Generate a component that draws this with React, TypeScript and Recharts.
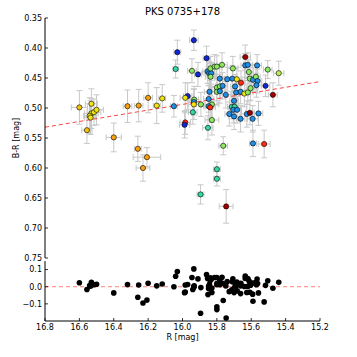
import React from 'react';
import { ScatterChart, Scatter, XAxis, YAxis, ErrorBar, ReferenceLine } from 'recharts';

// R magnitude of each observation
const rMag = [
  16.60, 16.53, 16.53, 16.515, 16.50, 16.54, 16.535, 16.556, 16.40, 16.32,
  16.255, 16.20, 16.118, 16.15, 16.05, 16.26, 16.207, 16.23, 16.03, 16.04,
  15.934, 15.945, 15.86, 15.91, 15.854, 15.845, 15.833, 15.837, 15.813, 15.80,
  15.77, 15.837, 15.707, 15.635, 15.635, 15.62, 15.566, 15.504, 15.44, 15.614,
  15.783, 15.74, 15.71, 15.684, 15.66, 15.608, 15.59, 15.573, 15.563, 15.80,
  15.783, 15.767, 15.694, 15.80, 15.783, 15.748, 15.688, 15.662, 15.64, 15.62,
  15.604, 15.57, 15.517, 15.474, 15.843, 15.97, 15.984, 15.848, 15.70, 15.932,
  15.934, 15.934, 15.893, 15.829, 15.848, 15.839, 15.713, 15.697, 15.705, 15.682,
  15.94, 15.728, 15.70, 15.662, 15.626, 15.608, 15.558, 15.592, 15.829, 15.984,
  15.988, 15.852, 15.763, 15.59, 15.525, 15.80, 15.80, 15.895, 15.746,
];
// B-R colour of each observation
const bMinusR = [
  0.499, 0.493, 0.509, 0.507, 0.503, 0.513, 0.516, 0.537, 0.549, 0.497,
  0.496, 0.483, 0.484, 0.496, 0.497, 0.568, 0.582, 0.600, 0.407, 0.435,
  0.387, 0.438, 0.417, 0.444, 0.439, 0.442, 0.442, 0.434, 0.431, 0.431,
  0.428, 0.448, 0.434, 0.415, 0.429, 0.428, 0.429, 0.436, 0.442, 0.440,
  0.451, 0.452, 0.451, 0.452, 0.458, 0.451, 0.453, 0.448, 0.455, 0.466,
  0.464, 0.463, 0.464, 0.473, 0.472, 0.478, 0.474, 0.473, 0.476, 0.474,
  0.467, 0.462, 0.463, 0.478, 0.473, 0.480, 0.483, 0.485, 0.488, 0.486,
  0.490, 0.494, 0.494, 0.494, 0.497, 0.499, 0.498, 0.498, 0.503, 0.503,
  0.507, 0.510, 0.514, 0.518, 0.510, 0.508, 0.509, 0.518, 0.520, 0.524,
  0.528, 0.533, 0.563, 0.559, 0.560, 0.602, 0.618, 0.644, 0.664,
];
// colour class (time-coded) of each observation
const colorClass = [
  'oy', 'yellow', 'yellow', 'yellow', 'yellow', 'yellow', 'yellow', 'oy', 'orange', 'orange',
  'orange', 'orange', 'yellow', 'yellow', 'blue', 'orange', 'orange', 'orange', 'navy', 'teal',
  'navy', 'green', 'navy', 'navy', 'blue', 'blue', 'blue', 'green', 'green', 'green',
  'green', 'green', 'green', 'dred', 'blue', 'blue', 'blue', 'green', 'lgreen', 'green',
  'blue', 'blue', 'blue', 'yellow', 'red', 'green', 'blue', 'green', 'blue', 'green',
  'green', 'blue', 'blue', 'green', 'blue', 'blue', 'blue', 'blue', 'yellow', 'green',
  'green', 'blue', 'navy', 'dred', 'blue', 'navy', 'yellow', 'blue', 'blue', 'green',
  'blue', 'yellow', 'green', 'green', 'blue', 'red', 'teal', 'teal', 'blue', 'blue',
  'teal', 'blue', 'blue', 'blue', 'blue', 'dred', 'blue', 'blue', 'green', 'red',
  'navy', 'teal', 'green', 'blue', 'red', 'teal', 'teal', 'teal', 'dred',
];
// error in R
const errR = [
  0.047, 0.035, 0.040, 0.040, 0.040, 0.035, 0.035, 0.030, 0.044, 0.025,
  0.025, 0.025, 0.020, 0.020, 0.020, 0.020, 0.080, 0.040, 0.020, 0.015,
  0.025, 0.025, 0.020, 0.020, 0.030, 0.030, 0.030, 0.025, 0.025, 0.025,
  0.030, 0.030, 0.030, 0.030, 0.025, 0.025, 0.025, 0.025, 0.030, 0.025,
  0.030, 0.025, 0.025, 0.030, 0.025, 0.030, 0.025, 0.025, 0.025, 0.030,
  0.025, 0.030, 0.025, 0.030, 0.030, 0.030, 0.025, 0.030, 0.025, 0.030,
  0.025, 0.030, 0.025, 0.025, 0.030, 0.025, 0.030, 0.030, 0.025, 0.025,
  0.030, 0.030, 0.025, 0.040, 0.030, 0.030, 0.025, 0.025, 0.025, 0.025,
  0.025, 0.025, 0.030, 0.025, 0.030, 0.025, 0.025, 0.030, 0.040, 0.030,
  0.030, 0.030, 0.025, 0.020, 0.035, 0.020, 0.020, 0.020, 0.040,
];
// error in B-R
const errBR = [
  0.028, 0.025, 0.025, 0.022, 0.025, 0.030, 0.028, 0.022, 0.024, 0.027,
  0.027, 0.025, 0.023, 0.030, 0.018, 0.021, 0.016, 0.022, 0.020, 0.015,
  0.017, 0.020, 0.020, 0.020, 0.020, 0.020, 0.018, 0.020, 0.020, 0.018,
  0.020, 0.022, 0.020, 0.020, 0.020, 0.020, 0.018, 0.015, 0.020, 0.020,
  0.022, 0.020, 0.022, 0.020, 0.020, 0.022, 0.020, 0.020, 0.020, 0.022,
  0.020, 0.022, 0.020, 0.022, 0.020, 0.022, 0.022, 0.020, 0.022, 0.020,
  0.020, 0.020, 0.018, 0.020, 0.022, 0.022, 0.025, 0.022, 0.020, 0.022,
  0.022, 0.025, 0.020, 0.030, 0.022, 0.020, 0.020, 0.020, 0.022, 0.022,
  0.020, 0.020, 0.022, 0.022, 0.022, 0.020, 0.020, 0.022, 0.025, 0.020,
  0.022, 0.020, 0.015, 0.022, 0.023, 0.012, 0.012, 0.016, 0.028,
];

// linear fit endpoints (R, B-R)
const trendR = [16.8, 15.2];
const trendBR = [0.532, 0.456];

const xTicks = [16.8, 16.6, 16.4, 16.2, 16.0, 15.8, 15.6, 15.4, 15.2];
const yTicks = [0.35, 0.4, 0.45, 0.5, 0.55, 0.6, 0.65, 0.7, 0.75];
const resTicks = [-0.1, 0, 0.1];

const palette: Record<string, string> = {
  navy: '#1028d8',
  blue: '#1e8ee6',
  teal: '#34d8a6',
  green: '#8ee860',
  lgreen: '#b8ee50',
  yellow: '#f0e414',
  oy: '#f4c208',
  orange: '#f8a010',
  red: '#ff2a10',
  dred: '#a00000',
};

const fitAt = (r: number) =>
  trendBR[0] + ((r - trendR[0]) * (trendBR[1] - trendBR[0])) / (trendR[1] - trendR[0]);

const points = rMag.map((r, i) => ({
  r,
  br: bMinusR[i],
  c: colorClass[i],
  eR: errR[i],
  eBR: errBR[i],
}));

const residuals = rMag.map((r, i) => ({ r, res: fitAt(r) - bMinusR[i] }));

const FONT = 'DejaVu Sans';
const tickStyle = { fontSize: 8, fill: '#000', fontFamily: FONT };
const axisLine = { stroke: '#000', strokeWidth: 1 };
const tickLine = { stroke: '#000', strokeWidth: 0.8 };

const fmtX = (v: number) => v.toFixed(1);
const fmtY = (v: number) => v.toFixed(2);
const fmtRes = (v: number) => (v < 0 ? '\u2212' + Math.abs(v).toFixed(1) : v.toFixed(1));

const ColoredDot = (props: any) => {
  const { cx, cy, payload } = props;
  if (cx == null || cy == null) return <g />;
  return <circle cx={cx} cy={cy} r={2.6} fill={palette[payload.c]} stroke="#000" strokeWidth={0.6} />;
};

const BlackDot = (props: any) => {
  const { cx, cy } = props;
  if (cx == null || cy == null) return <g />;
  return <circle cx={cx} cy={cy} r={2.8} fill="#000" />;
};

export default function App() {
  return (
    <div style={{ position: 'absolute', left: 0, top: 0, width: 357, height: 357, background: '#fff' }}>
      <div style={{ position: 'absolute', left: 0, top: 0 }}>
        <ScatterChart width={357} height={272} margin={{ top: 18, right: 37, bottom: 14, left: 0 }}>
          <XAxis
            xAxisId="b"
            type="number"
            dataKey="r"
            domain={[15.2, 16.8]}
            reversed
            ticks={xTicks}
            orientation="bottom"
            height={0}
            tick={false}
            tickSize={-3}
            axisLine={axisLine}
            tickLine={tickLine}
            allowDataOverflow
          />
          <XAxis
            xAxisId="t"
            type="number"
            domain={[15.2, 16.8]}
            reversed
            ticks={xTicks}
            orientation="top"
            height={0}
            tick={false}
            tickSize={-3}
            axisLine={axisLine}
            tickLine={tickLine}
            allowDataOverflow
          />
          <YAxis
            yAxisId="l"
            type="number"
            dataKey="br"
            domain={[0.35, 0.75]}
            reversed
            ticks={yTicks}
            width={45}
            tickSize={-3}
            tickMargin={6}
            tickFormatter={fmtY}
            tick={tickStyle}
            axisLine={axisLine}
            tickLine={tickLine}
            interval={0}
            allowDataOverflow
          />
          <YAxis
            yAxisId="r"
            type="number"
            orientation="right"
            domain={[0.35, 0.75]}
            reversed
            ticks={yTicks}
            width={0}
            tick={false}
            tickSize={-3}
            axisLine={axisLine}
            tickLine={tickLine}
            interval={0}
            allowDataOverflow
          />
          <Scatter
            xAxisId="b"
            yAxisId="l"
            data={points}
            dataKey="br"
            shape={ColoredDot}
            isAnimationActive={false}
          >
            <ErrorBar dataKey="eR" direction="x" width={3} stroke="#c8c8c8" strokeWidth={1} />
            <ErrorBar dataKey="eBR" direction="y" width={3} stroke="#c8c8c8" strokeWidth={1} />
          </Scatter>
          <ReferenceLine
            xAxisId="b"
            yAxisId="l"
            segment={[
              { x: trendR[0], y: trendBR[0] },
              { x: trendR[1], y: trendBR[1] },
            ]}
            stroke="#ff2020"
            strokeOpacity={0.85}
            strokeWidth={1}
            strokeDasharray="4 3"
          />
        </ScatterChart>
      </div>
      <div style={{ position: 'absolute', left: 0, top: 0 }}>
        <ScatterChart width={357} height={357} margin={{ top: 261, right: 37, bottom: 16, left: 0 }}>
          <XAxis
            xAxisId="b"
            type="number"
            dataKey="r"
            domain={[15.2, 16.8]}
            reversed
            ticks={xTicks}
            orientation="bottom"
            height={20}
            tickSize={-3}
            tickMargin={6}
            tickFormatter={fmtX}
            tick={tickStyle}
            axisLine={axisLine}
            tickLine={tickLine}
            interval={0}
            allowDataOverflow
          />
          <XAxis
            xAxisId="t"
            type="number"
            domain={[15.2, 16.8]}
            reversed
            ticks={xTicks}
            orientation="top"
            height={0}
            tick={false}
            tickSize={-3}
            axisLine={axisLine}
            tickLine={tickLine}
            interval={0}
            allowDataOverflow
          />
          <YAxis
            yAxisId="l"
            type="number"
            dataKey="res"
            domain={[-0.2, 0.15]}
            ticks={resTicks}
            width={45}
            tickSize={-3}
            tickMargin={6}
            tickFormatter={fmtRes}
            tick={tickStyle}
            axisLine={axisLine}
            tickLine={tickLine}
            interval={0}
            allowDataOverflow
          />
          <YAxis
            yAxisId="r"
            type="number"
            orientation="right"
            domain={[-0.2, 0.15]}
            ticks={resTicks}
            width={0}
            tick={false}
            tickSize={-3}
            axisLine={axisLine}
            tickLine={tickLine}
            interval={0}
            allowDataOverflow
          />
          <ReferenceLine
            xAxisId="b"
            yAxisId="l"
            y={0}
            stroke="#ff6060"
            strokeOpacity={0.8}
            strokeWidth={1}
            strokeDasharray="4 3"
          />
          <Scatter
            xAxisId="b"
            yAxisId="l"
            data={residuals}
            dataKey="res"
            shape={BlackDot}
            isAnimationActive={false}
          />
        </ScatterChart>
      </div>
      <svg
        width={357}
        height={357}
        style={{ position: 'absolute', left: 0, top: 0, pointerEvents: 'none' }}
      >
        <text x={182.5} y={14.5} textAnchor="middle" fontSize={10} fontFamily={FONT} fill="#000">
          PKS 0735+178
        </text>
        <text
          x={0}
          y={0}
          transform="translate(18.5,138) rotate(-90)"
          textAnchor="middle"
          fontSize={8}
          fontFamily={FONT}
          fill="#000"
        >
          B-R [mag]
        </text>
        <text x={182.5} y={339.5} textAnchor="middle" fontSize={8} fontFamily={FONT} fill="#000">
          R [mag]
        </text>
      </svg>
    </div>
  );
}
